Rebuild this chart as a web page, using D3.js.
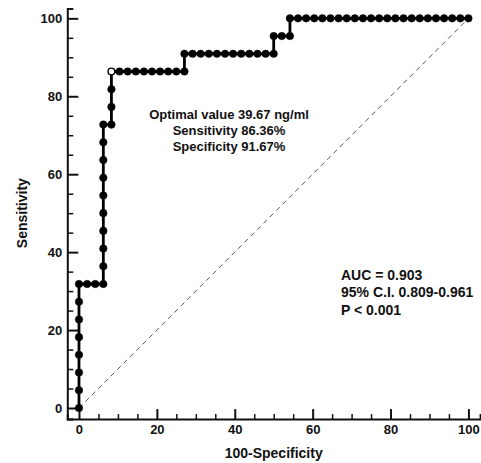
<!DOCTYPE html>
<html>
<head>
<meta charset="utf-8">
<script src="https://cdn.jsdelivr.net/npm/d3@7"></script>
<style>
  html, body { margin: 0; padding: 0; background: #fff; }
  text { font-family: "Liberation Sans", Arial, sans-serif; font-weight: bold; fill: #111; }
</style>
</head>
<body>
<div id="app"></div>
<script>
// ROC coordinates (100-Specificity, Sensitivity), in percent
const fpr = [
  0, 0, 0, 0, 0, 0, 0, 0,
  2.08, 4.17, 6.25,
  6.25, 6.25, 6.25, 6.25, 6.25, 6.25, 6.25, 6.25, 6.25,
  8.33, 8.33, 8.33, 8.33,
  10.42, 12.5, 14.58, 16.67, 18.75, 20.83, 22.92, 25.0, 27.08,
  27.08,
  29.17, 31.25, 33.33, 35.42, 37.5, 39.58, 41.67, 43.75, 45.83, 47.92, 50.0,
  50.0,
  52.08, 54.17,
  54.17,
  56.25, 58.33, 60.42, 62.5, 64.58, 66.67, 68.75, 70.83, 72.92, 75.0, 77.08,
  79.17, 81.25, 83.33, 85.42, 87.5, 89.58, 91.67, 93.75, 95.83, 97.92, 100.0
];
const sensitivity = [
  0, 4.55, 9.09, 13.64, 18.18, 22.73, 27.27, 31.82,
  31.82, 31.82, 31.82,
  36.36, 40.91, 45.45, 50.0, 54.55, 59.09, 63.64, 68.18, 72.73,
  72.73, 77.27, 81.82, 86.36,
  86.36, 86.36, 86.36, 86.36, 86.36, 86.36, 86.36, 86.36, 86.36,
  90.91,
  90.91, 90.91, 90.91, 90.91, 90.91, 90.91, 90.91, 90.91, 90.91, 90.91, 90.91,
  95.45,
  95.45, 95.45,
  100,
  100, 100, 100, 100, 100, 100, 100, 100, 100, 100, 100,
  100, 100, 100, 100, 100, 100, 100, 100, 100, 100, 100
];
const optimalPoint = [8.33, 86.36];
const diagonal = [[0, 0], [100, 100]];

const majorTicks = [0, 20, 40, 60, 80, 100];
const minorTicks = [5, 10, 15, 25, 30, 35, 45, 50, 55, 65, 70, 75, 85, 90, 95];

const criterionLines = ["Optimal value 39.67 ng/ml", "Sensitivity 86.36%", "Specificity 91.67%"];
const statsLines = ["AUC = 0.903", "95% C.I. 0.809-0.961", "P < 0.001"];

const width = 481;
const height = 463;

const svg = d3.select("#app")
  .append("svg")
  .attr("width", width)
  .attr("height", height);

const x = d3.scaleLinear().domain([-3, 103]).range([67.3, 480.1]);
const y = d3.scaleLinear().domain([-2.85, 102.5]).range([419.1, 8.6]);

const isOptimal = d => d[0] === optimalPoint[0] && d[1] === optimalPoint[1];

// axes: ticks point inward, labels outside
const xAxis = svg.append("g").attr("transform", `translate(0, ${y(-2.85)})`);
xAxis.call(d3.axisBottom(x).tickValues(minorTicks).tickSize(-5).tickFormat(""))
  .call(g => g.selectAll(".tick line").attr("stroke", "#111").attr("stroke-width", 1.5));
xAxis.append("g")
  .call(d3.axisBottom(x).tickValues(majorTicks).tickSize(-10).tickPadding(6).tickSizeOuter(0))
  .call(g => g.select(".domain").remove())
  .call(g => g.selectAll(".tick line").attr("stroke", "#111").attr("stroke-width", 2))
  .call(g => g.selectAll(".tick text")
    .attr("font-size", 13).attr("fill", "#111")
    .attr("font-family", "Liberation Sans, Arial, sans-serif").attr("font-weight", "bold"));
xAxis.select(".domain").attr("stroke", "#111").attr("stroke-width", 2);

const yAxis = svg.append("g").attr("transform", `translate(${x(-3)}, 0)`);
yAxis.call(d3.axisLeft(y).tickValues(minorTicks).tickSize(-6).tickFormat(""))
  .call(g => g.selectAll(".tick line").attr("stroke", "#111").attr("stroke-width", 1.5));
yAxis.append("g")
  .call(d3.axisLeft(y).tickValues(majorTicks).tickSize(-11).tickPadding(5).tickSizeOuter(0))
  .call(g => g.select(".domain").remove())
  .call(g => g.selectAll(".tick line").attr("stroke", "#111").attr("stroke-width", 2))
  .call(g => g.selectAll(".tick text")
    .attr("font-size", 13).attr("fill", "#111")
    .attr("font-family", "Liberation Sans, Arial, sans-serif").attr("font-weight", "bold"));
yAxis.select(".domain").attr("stroke", "#111").attr("stroke-width", 2);

// axis titles
svg.append("text")
  .attr("x", x(50))
  .attr("y", 458)
  .attr("text-anchor", "middle")
  .attr("font-size", 14)
  .text("100-Specificity");

svg.append("text")
  .attr("transform", `translate(27, ${y(50)}) rotate(-90)`)
  .attr("text-anchor", "middle")
  .attr("font-size", 14)
  .text("Sensitivity");

// reference diagonal
svg.append("path")
  .datum(diagonal)
  .attr("fill", "none")
  .attr("stroke", "#555")
  .attr("stroke-width", 1)
  .attr("stroke-dasharray", "5,4")
  .attr("d", d3.line().x(d => x(d[0])).y(d => y(d[1])));

// ROC curve
const points = fpr.map((f, i) => [f, sensitivity[i]]);

svg.append("path")
  .datum(points)
  .attr("fill", "none")
  .attr("stroke", "#000")
  .attr("stroke-width", 2.8)
  .attr("d", d3.line().x(d => x(d[0])).y(d => y(d[1])));

svg.append("g")
  .selectAll("circle")
  .data(points)
  .join("circle")
  .attr("cx", d => x(d[0]))
  .attr("cy", d => y(d[1]))
  .attr("r", d => (isOptimal(d) ? 3.4 : 3.8))
  .attr("fill", d => (isOptimal(d) ? "#fff" : "#000"))
  .attr("stroke", "#000")
  .attr("stroke-width", d => (isOptimal(d) ? 1.4 : 0.4));

// annotations
svg.append("g")
  .selectAll("text")
  .data(criterionLines)
  .join("text")
  .attr("x", 229)
  .attr("y", (d, i) => 119 + i * 16)
  .attr("text-anchor", "middle")
  .attr("font-size", 13)
  .text(d => d);

svg.append("g")
  .selectAll("text")
  .data(statsLines)
  .join("text")
  .attr("x", 341)
  .attr("y", (d, i) => 279.5 + i * 17.5)
  .attr("font-size", 14)
  .text(d => d);
</script>
</body>
</html>
